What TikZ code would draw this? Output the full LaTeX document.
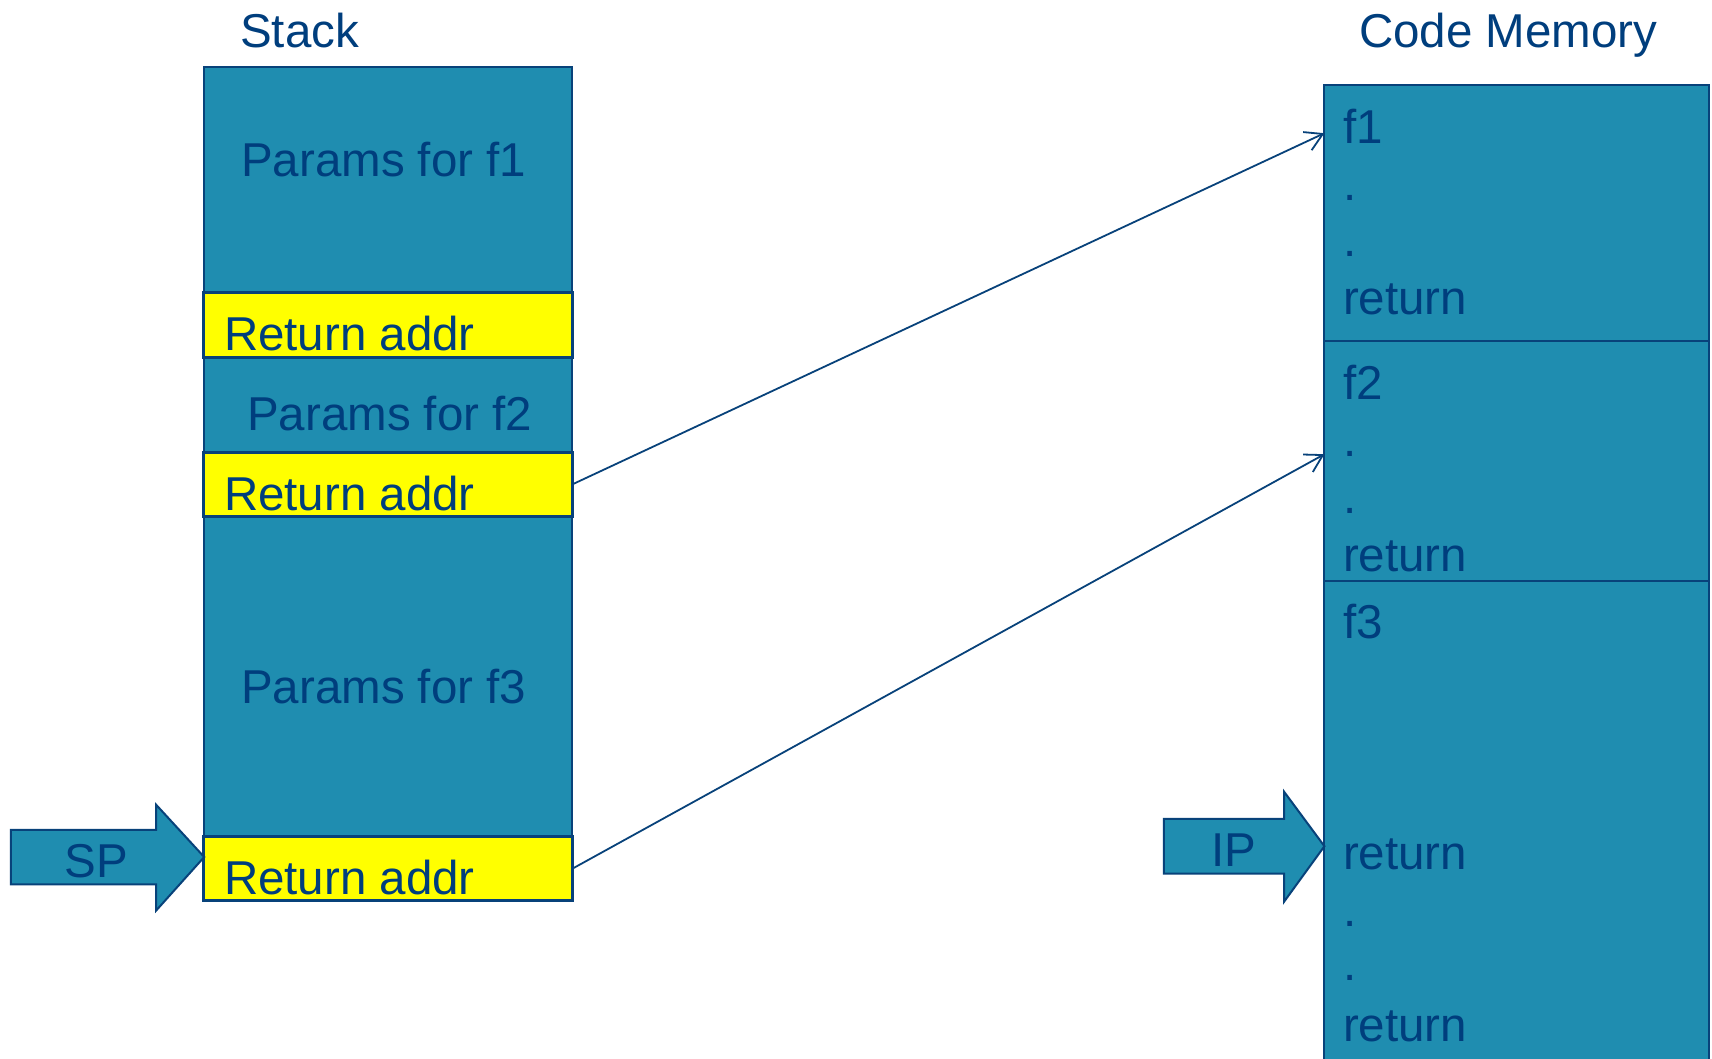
\documentclass[tikz,border=0pt]{standalone}
\usepackage{fontspec}
\setmainfont{Liberation Sans}
\usetikzlibrary{arrows.meta}
\definecolor{cellfill}{RGB}{31,141,176}
\definecolor{ink}{RGB}{0,62,125}
\definecolor{edge}{RGB}{8,66,122}
\definecolor{hilite}{RGB}{255,255,0}
\begin{document}
\begin{tikzpicture}[x=1pt,y=-1pt,
  txt/.style={font=\fontsize{47.5}{57}\selectfont, text=ink, inner sep=0pt, anchor=base west},
  cell/.style={draw=edge, line width=2pt, fill=cellfill, inner sep=0pt, outer sep=0pt, anchor=north west},
  retbox/.style={draw=edge, line width=3pt, fill=hilite, inner sep=0pt, outer sep=0pt, anchor=north west, minimum width=369pt, minimum height=64.4pt},
  link/.style={draw=edge, line width=1.8pt, -{Straight Barb[length=17pt,width=20pt,line width=1.8pt]}},
  ptr/.style={draw=edge, line width=2pt, fill=cellfill, line join=miter}]
\useasboundingbox (0,0) rectangle (1712,1058);
\clip (0,0) rectangle (1712,1058);

% titles
\node[txt] (stacktitle) at (240,47) {Stack};
\node[txt] (codetitle) at (1359,47) {Code Memory};

% stack
\node[cell, minimum width=367.9pt, minimum height=834.1pt] (stack) at (204.2,66.6) {};
\node[retbox] (ret1) at (203.7,292.6) {};
\node[retbox] (ret2) at (203.7,452.0) {};
\node[retbox] (ret3) at (203.7,836.3) {};

\node[txt] (p1) at (241,176.5) {Params for f1};
\node[txt] (p2) at (247,430) {Params for f2};
\node[txt] (p3) at (241,703) {Params for f3};
\node[txt] (r1) at (223.8,350.5) {Return addr};
\node[txt] (r2) at (223.8,510) {Return addr};
\node[txt] (r3) at (223.8,894) {Return addr};

% code memory
\node[cell, minimum width=384.3pt, minimum height=255.4pt] (sec1) at (1324.4,85.2) {};
\node[cell, minimum width=384.3pt, minimum height=240.2pt] (sec2) at (1324.4,340.6) {};
\node[cell, minimum width=384.3pt, minimum height=500pt] (sec3) at (1324.4,580.8) {};

\node[txt] (c1) at (1342.8,143) {f1};
\node[txt] (c2) at (1342.8,200) {.};
\node[txt] (c3) at (1342.8,256.6) {.};
\node[txt] (c4) at (1342.8,314.4) {return};
\node[txt] (c5) at (1342.8,399.6) {f2};
\node[txt] (c6) at (1342.8,456.4) {.};
\node[txt] (c7) at (1342.8,513) {.};
\node[txt] (c8) at (1342.8,571) {return};
\node[txt] (c9) at (1342.8,638.7) {f3};
\node[txt] (c10) at (1342.8,869) {return};
\node[txt] (c11) at (1342.8,926) {.};
\node[txt] (c12) at (1342.8,980.4) {.};
\node[txt] (c13) at (1342.8,1041.6) {return};

% pointer arrows
\draw[ptr] (10.9,829.8) -- (156.1,829.8) -- (156.1,804.7) -- (204.2,857) -- (156.1,910.6) -- (156.1,884.4) -- (10.9,884.4) -- cycle;
\node[txt, anchor=base] (sp) at (96,877) {SP};
\draw[ptr] (1163.9,818.9) -- (1284,818.9) -- (1284,791.6) -- (1324.4,846.2) -- (1284,901.8) -- (1284,873.5) -- (1163.9,873.5) -- cycle;
\node[txt, anchor=base] (ip) at (1234,866) {IP};

% links
\coordinate (t1) at (1324.4,133.2);
\coordinate (t2) at (1324.4,454.2);
\draw[link] (ret2.east) -- (t1);
\draw[link] (ret3.east) -- (t2);
\end{tikzpicture}
\end{document}
